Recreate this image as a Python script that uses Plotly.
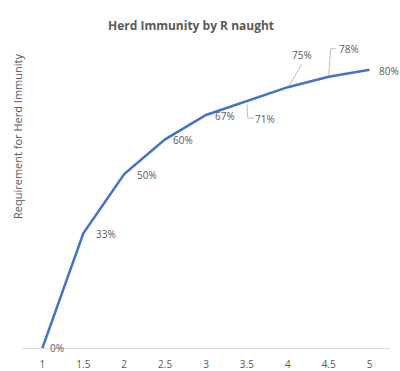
import plotly.graph_objects as go

r_naught = [1, 1.5, 2, 2.5, 3, 3.5, 4, 4.5, 5]
herd_pct = [0, 33, 50, 60, 67, 71, 75, 78, 80]
labels = [f"{v}%" for v in herd_pct]
x_ticks = [1, 1.5, 2, 2.5, 3, 3.5, 4, 4.5, 5]
x_tick_text = ["1", "1.5", "2", "2.5", "3", "3.5", "4", "4.5", "5"]

GRAY = "#595959"
FONT = "Open Sans"
W, H = 400, 371
ML, MR, MT, MB = 22, 10, 35, 23

# label offsets in pixels (dx right, dy down)
offsets = [(15, 0), (23, 1), (23, 1), (18, 1), (19, 1), (18, 18), (14, -32), (20, -28), (19, 1)]

fig = go.Figure()
fig.add_trace(go.Scatter(
    x=r_naught, y=herd_pct, mode="lines",
    line=dict(color="#4472C4", width=2.5),
    hoverinfo="skip"))

def px_to_paper(px, py):
    return (px - ML) / (W - ML - MR), (H - py - MB) / (H - MT - MB)

annotations = []
for xv, yv, t, (dx, dy) in zip(r_naught, herd_pct, labels, offsets):
    annotations.append(dict(x=xv, y=yv, xref="x", yref="y", text=t, showarrow=False,
                            xanchor="center", yanchor="middle",
                            xshift=dx, yshift=-dy, font=dict(family=FONT, size=10, color=GRAY)))

tx, ty = px_to_paper(191, 25)
annotations.append(dict(text="<b>Herd Immunity by R naught</b>", x=tx, y=ty,
                        xref="paper", yref="paper", showarrow=False,
                        xanchor="center", yanchor="middle",
                        font=dict(family=FONT, size=12, color=GRAY)))

yx, yy = px_to_paper(17, 137)
annotations.append(dict(text="Requirement for Herd Immunity", x=yx, y=yy,
                        xref="paper", yref="paper", showarrow=False, textangle=-90,
                        xanchor="center", yanchor="middle",
                        font=dict(family=FONT, size=11, color=GRAY)))

shapes = []
def leader(xv, yv, pts):
    for (a, b), (c, d) in zip(pts[:-1], pts[1:]):
        shapes.append(dict(type="line", xref="x", yref="y", xsizemode="pixel", ysizemode="pixel",
                           xanchor=xv, yanchor=yv, x0=a, y0=-b, x1=c, y1=-d,
                           line=dict(color="#BFBFBF", width=1)))

leader(3.5, 71, [(0, 3), (1, 17), (8, 17)])
leader(4, 75, [(1, -1), (14, -23)])
leader(4.5, 78, [(0, -1), (2, -28), (7, -28)])

fig.update_layout(
    width=W, height=H,
    margin=dict(l=ML, r=MR, t=MT, b=MB),
    paper_bgcolor="white", plot_bgcolor="white",
    showlegend=False,
    annotations=annotations,
    shapes=shapes,
    xaxis=dict(range=[0.75, 5.25], tickvals=x_ticks, ticktext=x_tick_text,
               showgrid=False, zeroline=False, showline=True, linecolor="#D9D9D9", linewidth=1,
               ticks="", ticklabelstandoff=7, automargin=False,
               tickfont=dict(family=FONT, size=10, color=GRAY), fixedrange=True),
    yaxis=dict(range=[0, 90], showgrid=False, zeroline=False, showline=False,
               showticklabels=False, ticks="", fixedrange=True, automargin=False),
)

fig.write_html("out.html", config={"displayModeBar": False},
               post_script="document.body.style.margin='0';")
